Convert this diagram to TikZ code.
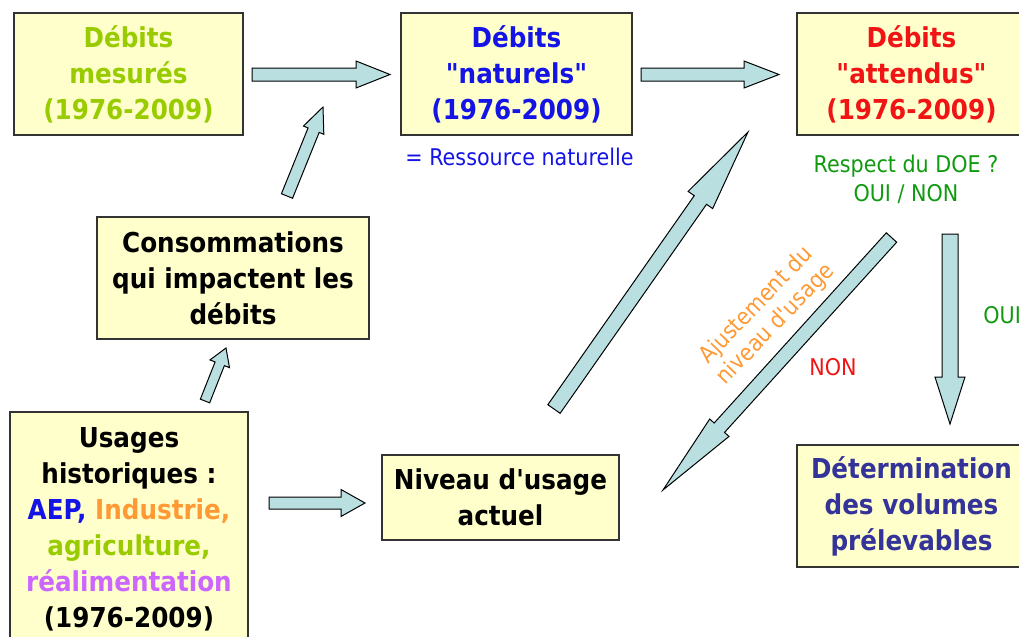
\documentclass[tikz,border=0pt]{standalone}
\usepackage{fontspec}
\setmainfont{DejaVu Sans}[FakeStretch=0.9, Ligatures=TeXOff]
\usepackage{tikz}
\usetikzlibrary{calc}
\definecolor{boxfill}{HTML}{FFFFCC}
\definecolor{boxline}{HTML}{333333}
\definecolor{arrowfill}{HTML}{B9DFE1}
\definecolor{mesgreen}{HTML}{99CC00}
\definecolor{natblue}{HTML}{1414E6}
\definecolor{attred}{HTML}{F01414}
\definecolor{doegreen}{HTML}{109A10}
\definecolor{indorange}{HTML}{FF9933}
\definecolor{realpurple}{HTML}{CC66FF}
\definecolor{detblue}{HTML}{333399}
\tikzstyle{box} = [rectangle, minimum width=114.5pt, minimum height=61pt, inner sep=0pt, align=center, draw=boxline, line width=0.6pt, fill=boxfill, font=\bfseries\fontsize{13.7pt}{18pt}\selectfont]
\tikzstyle{note} = [inner sep=0pt, align=center, font=\fontsize{11.5pt}{14.5pt}\selectfont]
\tikzstyle{bigarrow} = [draw=black, line width=0.5pt, fill=arrowfill, line join=miter]
% block arrow: tail, tip, shaft half width, head half width, head length
\newcommand{\blockarrow}[5]{
    \coordinate (hb) at ($(#2)!#5!(#1)$);
    \draw [bigarrow] ($(#1)!#3!90:(#2)$) -- ($(hb)!#3!90:(#2)$) -- ($(hb)!#4!90:(#2)$) -- (#2)
        -- ($(hb)!#4!-90:(#2)$) -- ($(hb)!#3!-90:(#2)$) -- ($(#1)!#3!-90:(#2)$) -- cycle;
}

\begin{document}
\begin{tikzpicture}[x=0.5pt, y=0.5pt]
    \useasboundingbox (0,0) rectangle (1019,-637);
    \node (mes) [box, text=mesgreen] at (128.5,-74) {Débits\\mesurés\\(1976-2009)};
    \node (nat) [box, text=natblue, minimum width=115.5pt] at (516.5,-74) {Débits\\"naturels"\\(1976-2009)};
    \node (att) [box, text=attred] at (911.5,-74) {Débits\\"attendus"\\(1976-2009)};
    \node (cons) [box, minimum width=136pt] at (233,-278) {Consommations\\qui impactent les\\débits};
    \node (usa) [box, minimum width=119pt, minimum height=117.5pt] at (129,-529.5) {Usages\\historiques :\\{\color{natblue}AEP,} {\color{indorange}Industrie,}\\{\color{mesgreen}agriculture,}\\{\color{realpurple}réalimentation}\\(1976-2009)};
    \node (niv) [box, minimum width=118.5pt, minimum height=42.5pt] at (500.5,-497.5) {Niveau d'usage\\actuel};
    \node (det) [box, text=detblue] at (911.5,-506) {Détermination\\des volumes\\prélevables};
    \node (res) [note, text=natblue] at (519.5,-157) {= Ressource naturelle};
    \node (doe) [note, text=doegreen] at (906,-179.5) {Respect du DOE ?\\OUI / NON};
    \node (oui) [note, text=doegreen, anchor=west] at (983,-315) {OUI};
    \node (non) [note, text=attred] at (833,-367) {NON};
    \node (adj) [note, text=indorange, rotate=46, font=\fontsize{11.5pt}{13.5pt}\selectfont] at (766,-315) {Ajustement du\\niveau d'usage};

    \coordinate (a1s) at (252,-74.5);   \coordinate (a1e) at (390,-74.5);
    \coordinate (a2s) at (641,-74.5);   \coordinate (a2e) at (779,-74.5);
    \coordinate (a3s) at (287,-196);    \coordinate (a3e) at (323,-107);
    \coordinate (a4s) at (205,-401);    \coordinate (a4e) at (226,-348);
    \coordinate (a5s) at (269,-503);    \coordinate (a5e) at (365,-503);
    \coordinate (a6s) at (554,-409);    \coordinate (a6e) at (748,-132);
    \coordinate (a7s) at (891.5,-237.5); \coordinate (a7e) at (663,-490);
    \coordinate (a8s) at (950,-234);    \coordinate (a8e) at (950,-424);

    \blockarrow{a1s}{a1e}{3.25pt}{6.75pt}{17pt}
    \blockarrow{a2s}{a2e}{3.25pt}{6.75pt}{17.5pt}
    \blockarrow{a3s}{a3e}{3pt}{5.5pt}{12.5pt}
    \blockarrow{a4s}{a4e}{2.5pt}{5.25pt}{8.5pt}
    \blockarrow{a5s}{a5e}{3pt}{6.75pt}{12pt}
    \blockarrow{a6s}{a6e}{3.75pt}{7.5pt}{41.5pt}
    \blockarrow{a7s}{a7e}{3.5pt}{6.5pt}{42pt}
    \blockarrow{a8s}{a8e}{4pt}{7.5pt}{23.5pt}
\end{tikzpicture}
\end{document}
